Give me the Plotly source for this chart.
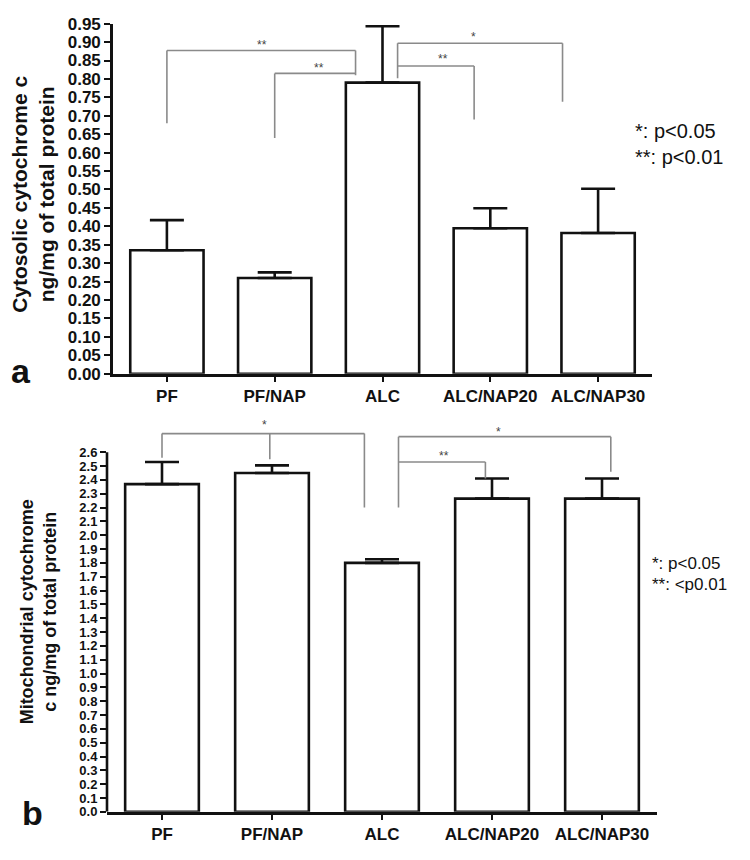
import plotly.graph_objects as go

# ---------------- data ----------------
categories = ["PF", "PF/NAP", "ALC", "ALC/NAP20", "ALC/NAP30"]

cyto_mean = [0.335, 0.26, 0.79, 0.395, 0.382]
cyto_err = [0.082, 0.015, 0.153, 0.054, 0.120]

mito_mean = [2.37, 2.45, 1.80, 2.265, 2.265]
mito_err = [0.16, 0.055, 0.026, 0.145, 0.145]

cyto_ticks = [round(i * 0.05, 2) for i in range(20)]
mito_ticks = [round(i * 0.1, 1) for i in range(27)]

# significance brackets: polylines in (category index, value)
cyto_brackets = [
    dict(xs=[0, 0, 1.75, 1.75], ys=[0.68, 0.877, 0.877, 0.81]),
    dict(xs=[1, 1, 1.75], ys=[0.64, 0.815, 0.815]),
    dict(xs=[2.14, 2.14, 3.67, 3.67], ys=[0.802, 0.897, 0.897, 0.738]),
    dict(xs=[2.14, 2.85, 2.85], ys=[0.835, 0.835, 0.69]),
]
cyto_stars = [("**", 0.88, 0.893), ("**", 1.41, 0.829), ("**", 2.56, 0.853), ("*", 2.84, 0.915)]

mito_brackets = [
    dict(xs=[0, 0, 1.84, 1.84], ys=[2.56, 2.735, 2.735, 2.20]),
    dict(xs=[0.98, 0.98], ys=[2.55, 2.735]),
    dict(xs=[2.15, 2.15, 4.08, 4.08], ys=[2.20, 2.713, 2.713, 2.46]),
    dict(xs=[2.15, 2.94, 2.94], ys=[2.53, 2.53, 2.41]),
]
mito_stars = [("*", 0.93, 2.80), ("**", 2.56, 2.575), ("*", 3.06, 2.745)]

cyto_legend = ["*: p<0.05", "**: p<0.01"]
mito_legend = ["*: p<0.05", "**: <p0.01"]

# ---------------- figure ----------------
W, H = 750, 860
FONT = "Liberation Sans, Arial, sans-serif"
BLACK = "#111111"
GRAY = "#8a8a8a"


def px(x):
    return x / W


def py(y):
    return 1 - y / H


fig = go.Figure()

fig.add_trace(go.Bar(
    x=categories, y=cyto_mean, width=0.68,
    marker=dict(color="white", line=dict(color=BLACK, width=2.6)),
    error_y=dict(type="data", array=cyto_err, arrayminus=[0] * 5, symmetric=False,
                 color=BLACK, thickness=2.6, width=17),
    xaxis="x", yaxis="y", showlegend=False, hoverinfo="skip",
))
fig.add_trace(go.Bar(
    x=categories, y=mito_mean, width=0.67,
    marker=dict(color="white", line=dict(color=BLACK, width=2.6)),
    error_y=dict(type="data", array=mito_err, arrayminus=[0] * 5, symmetric=False,
                 color=BLACK, thickness=2.6, width=17),
    xaxis="x2", yaxis="y2", showlegend=False, hoverinfo="skip",
))

shapes = []
for br, xr, yr in [(cyto_brackets, "x", "y"), (mito_brackets, "x2", "y2")]:
    for b in br:
        for i in range(len(b["xs"]) - 1):
            shapes.append(dict(type="line", xref=xr, yref=yr,
                               x0=b["xs"][i], x1=b["xs"][i + 1],
                               y0=b["ys"][i], y1=b["ys"][i + 1],
                               line=dict(color=GRAY, width=1.6)))
# y axis line of panel b (only up to 2.6)
shapes.append(dict(type="line", xref="paper", yref="y2", x0=px(107), x1=px(107),
                   y0=0, y1=mito_ticks[-1], line=dict(color=BLACK, width=2.6)))

annotations = []
for s, x, y in cyto_stars:
    annotations.append(dict(text=s, x=x, y=y, xref="x", yref="y", showarrow=False,
                            font=dict(size=12, color="#444", family=FONT)))
for s, x, y in mito_stars:
    annotations.append(dict(text=s, x=x, y=y, xref="x2", yref="y2", showarrow=False,
                            font=dict(size=12, color="#444", family=FONT)))

for t, yy in zip(cyto_legend, [125, 151]):
    annotations.append(dict(text=t, x=px(633), y=py(yy), xref="paper", yref="paper",
                            xanchor="left", yanchor="middle", showarrow=False,
                            font=dict(size=20, color=BLACK, family=FONT)))
for t, yy in zip(mito_legend, [567, 588]):
    annotations.append(dict(text=t, x=px(650), y=py(yy), xref="paper", yref="paper",
                            xanchor="left", yanchor="middle", showarrow=False,
                            font=dict(size=17, color=BLACK, family=FONT)))

annotations.append(dict(text="<b>Cytosolic cytochrome c<br>ng/mg of total protein</b>",
                        x=px(33), y=py(190), xref="paper", yref="paper", textangle=-90,
                        showarrow=False, xanchor="center", yanchor="middle",
                        font=dict(size=21, color=BLACK, family=FONT)))
annotations.append(dict(text="<b>Mitochondrial cytochrome<br>c ng/mg of total protein</b>",
                        x=px(38), y=py(617), xref="paper", yref="paper", textangle=-90,
                        showarrow=False, xanchor="center", yanchor="middle",
                        font=dict(size=18, color=BLACK, family=FONT)))
annotations.append(dict(text="<b>a</b>", x=px(21), y=py(370), xref="paper", yref="paper",
                        showarrow=False, xanchor="center", yanchor="middle",
                        font=dict(size=34, color=BLACK, family=FONT)))
annotations.append(dict(text="<b>b</b>", x=px(32), y=py(822), xref="paper", yref="paper",
                        showarrow=False, xanchor="center", yanchor="middle",
                        font=dict(size=34, color=BLACK, family=FONT)))

axis_common = dict(showgrid=False, zeroline=False, ticks="outside", tickcolor=BLACK,
                   linecolor=BLACK, linewidth=2.6, tickwidth=2, fixedrange=True)

fig.update_layout(
    width=W, height=H, autosize=False,
    margin=dict(l=0, r=0, t=0, b=0),
    paper_bgcolor="white", plot_bgcolor="white",
    font=dict(family=FONT, color=BLACK),
    hovermode=False,
    xaxis=dict(domain=[px(113), px(652)], anchor="y", type="category",
               range=[-0.5, 4.5], showline=True, ticklen=5,
               tickfont=dict(size=17, weight="bold", family=FONT), **axis_common),
    yaxis=dict(domain=[py(373), py(15)], anchor="x", range=[0, 0.95],
               tickvals=cyto_ticks, tickformat=".2f", showline=True, ticklen=6,
               tickfont=dict(size=17, weight="bold", family=FONT), **axis_common),
    xaxis2=dict(domain=[px(107), px(657)], anchor="y2", type="category",
                range=[-0.5, 4.5], showline=True, ticklen=5,
                tickfont=dict(size=17, weight="bold", family=FONT), **axis_common),
    yaxis2=dict(domain=[py(821), py(425)], anchor="x2", range=[0, 2.8],
                tickvals=mito_ticks, tickformat=".1f", showline=False, ticklen=6,
                tickfont=dict(size=13, weight="bold", family=FONT), **axis_common),
    shapes=shapes,
    annotations=annotations,
    bargap=0.3,
)

fig.write_html("out.html", config={"displayModeBar": False},
               post_script="document.body.style.margin='0';")
